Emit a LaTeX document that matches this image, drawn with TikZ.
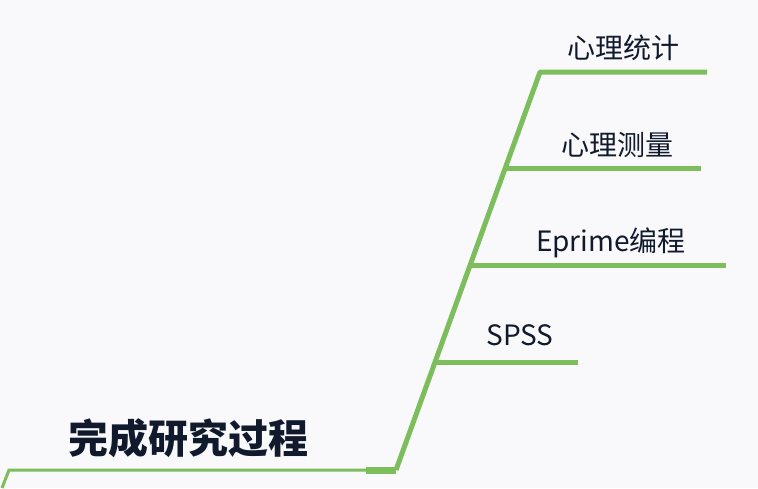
\documentclass[tikz,border=0pt]{standalone}
\usepackage{fontspec}
\setmainfont{Noto Sans CJK SC}
\definecolor{bg}{HTML}{F9F9FB}
\definecolor{gr}{HTML}{7DBE5C}
\definecolor{tx}{HTML}{111A2C}
\begin{document}
\begin{tikzpicture}[x=1pt,y=-1pt,
  br/.style={draw=gr,line width=5pt},
  lab/.style={text=tx,font=\fontsize{28}{30}\selectfont,anchor=base,inner sep=0}]
\fill[bg] (0,0) rectangle (758,488);
\useasboundingbox (0,0) rectangle (758,488);
\coordinate (s0) at (2,488);
\coordinate (s1) at (9,470);
\coordinate (s2) at (366,470);
\coordinate (root) at (396,470);
\coordinate (b1) at (540,72); \coordinate (e1) at (707,72);
\coordinate (b2) at (505,168); \coordinate (e2) at (701,168);
\coordinate (b3) at (470,265); \coordinate (e3) at (726,265);
\coordinate (b4) at (434,362); \coordinate (e4) at (578,362);
\draw[draw=gr,line width=3pt] (s0) -- (s1) -- (s2);
\draw[draw=gr,line width=7pt] (s2) -- (root);
\draw[br,line join=round] (root) -- (b1) -- (e1);
\draw[br] (b2) -- (e2);
\draw[br] (b3) -- (e3);
\draw[br] (b4) -- (e4);
\node[lab] (t1) at (623,58) {心理统计};
\node[lab] (t2) at (617,155) {心理测量};
\node[lab] (t3) at (611,251) {Eprime编程};
\node[lab] (t4) at (520,345) {SPSS};
\node[text=tx,font=\fontsize{40}{42}\selectfont\bfseries,anchor=base,inner sep=0] (root text) at (188,453) {完成研究过程};
\end{tikzpicture}
\end{document}
